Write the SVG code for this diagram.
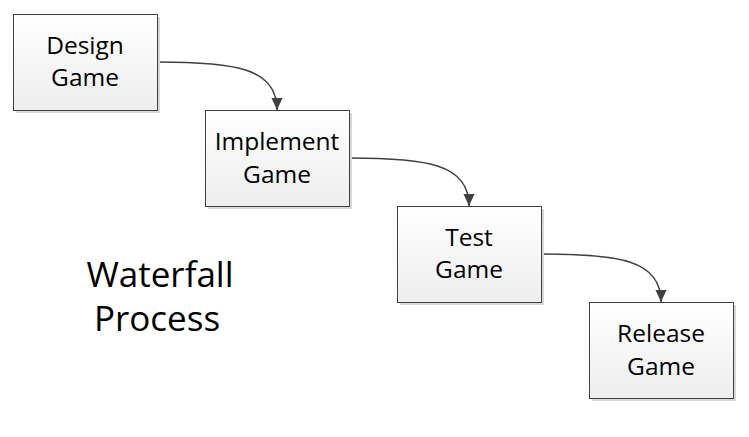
<svg xmlns="http://www.w3.org/2000/svg" width="749" height="437" viewBox="0 0 749 437">
<style>
.box{fill:url(#g);stroke:#404040;stroke-width:1}
.sh{fill:#d8d8d8}
.t{font-family:"Open Sans","Liberation Sans",sans-serif;font-size:24.5px;fill:#000;text-anchor:middle}
.big{font-family:"Open Sans","Liberation Sans",sans-serif;font-size:35px;fill:#000;text-anchor:middle}
.c{fill:none;stroke:#404040;stroke-width:1.6}
</style>
<defs>
<linearGradient id="g" x1="0" y1="0" x2="0" y2="1">
<stop offset="0" stop-color="#ffffff"/>
<stop offset="1" stop-color="#eeeeee"/>
</linearGradient>
<marker id="a" markerWidth="12" markerHeight="13" viewBox="0 0 13 12" refX="13" refY="6" orient="auto" markerUnits="userSpaceOnUse">
<path d="M0,0 L13,6 L0,12 Z" fill="#404040"/>
</marker>
</defs>
<rect width="749" height="437" fill="#fff"/>
<g id="connectors">
<path class="c" d="M157,62 C235,62 277,68 277,110" marker-end="url(#a)"/>
<path class="c" d="M349,158 C427,158 469,164 469,206" marker-end="url(#a)"/>
<path class="c" d="M541,254 C619,254 661,260 661,302" marker-end="url(#a)"/>
</g>
<g id="design">
<rect class="sh" x="16" y="17" width="144" height="96"/>
<rect class="box" x="13.5" y="14.5" width="144" height="96"/>
<text class="t" x="85" y="54">Design</text>
<text class="t" x="85" y="86">Game</text>
</g>
<g id="implement">
<rect class="sh" x="208" y="113" width="144" height="96"/>
<rect class="box" x="205.5" y="110.5" width="144" height="96"/>
<text class="t" x="277" y="150">Implement</text>
<text class="t" x="277" y="183">Game</text>
</g>
<g id="test">
<rect class="sh" x="400" y="209" width="144" height="96"/>
<rect class="box" x="397.5" y="206.5" width="144" height="96"/>
<text class="t" x="469" y="246">Test</text>
<text class="t" x="469" y="278">Game</text>
</g>
<g id="release">
<rect class="sh" x="592" y="305" width="144" height="96"/>
<rect class="box" x="589.5" y="302.5" width="144" height="96"/>
<text class="t" x="661" y="342">Release</text>
<text class="t" x="661" y="375">Game</text>
</g>
<g id="title">
<text class="big" x="160" y="287">Waterfall</text>
<text class="big" x="157" y="331">Process</text>
</g>
</svg>
